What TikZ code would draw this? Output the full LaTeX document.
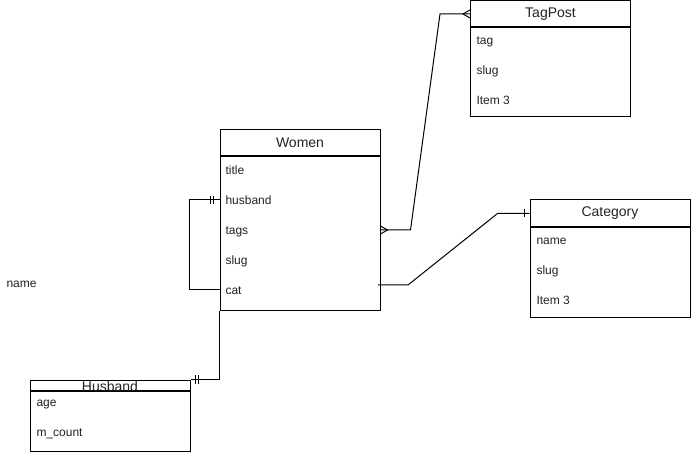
\documentclass[tikz,border=0pt]{standalone}
\usepackage{fontspec}
\setmainfont{Liberation Sans}
\usetikzlibrary{positioning}
\definecolor{txt}{HTML}{222222}

\begin{document}
\begin{tikzpicture}[
      x=1pt,y=-1pt,
      line width=1pt,
      hdr/.style={
        draw,rectangle,minimum width=160pt,inner sep=0pt,text=txt,font=\fontsize{14}{16}\selectfont
      },
      body/.style={
        draw,rectangle,minimum width=160pt,inner sep=0pt
      },
      row/.style={
        anchor=west,inner sep=0pt,text height=8.6pt,text depth=0pt,text=txt,font=\fontsize{12}{14}\selectfont
      },
    ]
    \useasboundingbox (0,0) rectangle (691,454);
    % tables
    \node[hdr,minimum height=26pt] (women) at (300,143) {Women};
    \node[body,minimum height=154pt,below=0pt of women] (womenb) {};
    \foreach \t [count=\i] in {title,husband,tags,slug,cat}
      \node[row] (w\i) at (225,140+30*\i) {\t};
    \node[hdr,minimum height=26pt] (tagpost) at (550.5,14) {TagPost};
    \node[body,minimum height=89pt,below=0pt of tagpost] (tagpostb) {};
    \foreach \t [count=\i] in {tag,slug,Item 3}
      \node[row] (t\i) at (476,10+30*\i) {\t};
    \node[hdr,minimum height=27pt] (category) at (610,213.5) {Category};
    \node[body,minimum height=90pt,below=0pt of category] (categoryb) {};
    \foreach \t [count=\i] in {name,slug,Item 3}
      \node[row] (c\i) at (536,210+30*\i) {\t};
    \node[hdr,minimum height=10pt] (husband) at (110,385) {};
    \node[text=txt,font=\fontsize{14}{16}\selectfont,inner sep=0pt] (husbandt) at (110,386) {Husband};
    \node[body,minimum height=60pt,below=0pt of husband] (husbandb) {};
    \foreach \t [count=\i] in {age,m\_count}
      \node[row] (h\i) at (36,372+30*\i) {\t};
    \node[row] (name) at (6,283) {name};
    % women - tagpost
    \coordinate (tagA) at (womenb.east |- w3);
    \draw (tagA) -- ++(30,0) -- ([xshift=-30pt]tagpost.west) -- (tagpost.west);
    \draw (tagA) ++(0,-4) -- ++(7,4) -- ++(-7,4);
    \draw (tagpost.west) ++(0,-4) -- ++(-7,4) -- ++(7,4);
    % women - category
    \coordinate (catA) at (378,285);
    \draw (catA) -- ++(30,0) -- ([xshift=-32pt]category.west) -- (category.west);
    \draw ([xshift=-5pt]category.west) ++(0,-4) -- ++(0,8);
    % husband - cat
    \coordinate (husA) at (womenb.west |- w2);
    \draw (husA) -- ++(-30,0) |- (womenb.west |- w5);
    \draw ([xshift=-6pt]husA) ++(0,-4) -- ++(0,8);
    \draw ([xshift=-9pt]husA) ++(0,-4) -- ++(0,8);
    % women - husband
    \draw (womenb.south west) |- (husband.north east);
    \draw ([xshift=5pt]husband.north east) ++(0,-4) -- ++(0,8);
    \draw ([xshift=8pt]husband.north east) ++(0,-4) -- ++(0,8);
  \end{tikzpicture}
\end{document}
